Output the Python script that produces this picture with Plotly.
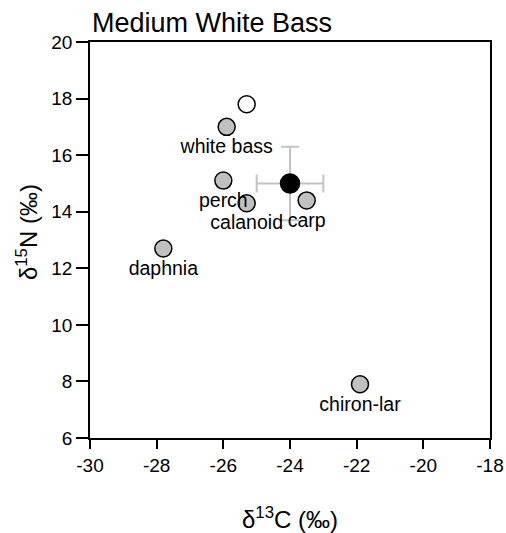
import plotly.graph_objects as go

# Data
prey_names = ["white bass", "perch", "calanoid", "carp", "daphnia", "chiron-lar"]
prey_d13C = [-25.9, -26.0, -25.3, -23.5, -27.8, -21.9]
prey_d15N = [17.0, 15.1, 14.3, 14.4, 12.7, 7.9]

open_d13C = [-25.3]
open_d15N = [17.8]

mean_d13C = [-24.0]
mean_d15N = [15.0]
mean_sd13C = [1.0]
mean_sd15N = [1.3]

x_ticks = [-30, -28, -26, -24, -22, -20, -18]
x_tick_labels = ["-30", "-28", "-26", "-24", "-22", "-20", "-18"]
y_ticks = [6, 8, 10, 12, 14, 16, 18, 20]
y_tick_labels = ["6", "8", "10", "12", "14", "16", "18", "20"]

FONT = "Liberation Sans, Arial, sans-serif"

fig = go.Figure()

# mean consumer with error bars
fig.add_trace(go.Scatter(
    x=mean_d13C, y=mean_d15N, mode="markers",
    marker=dict(size=19, color="black", line=dict(color="black", width=1.5)),
    error_x=dict(type="data", array=mean_sd13C, color="#c4c4c4", thickness=2, width=9),
    error_y=dict(type="data", array=mean_sd15N, color="#c4c4c4", thickness=2, width=9),
    showlegend=False, cliponaxis=False,
))

# open circle
fig.add_trace(go.Scatter(
    x=open_d13C, y=open_d15N, mode="markers",
    marker=dict(size=17, color="white", line=dict(color="black", width=1.5)),
    showlegend=False, cliponaxis=False,
))

# prey sources
fig.add_trace(go.Scatter(
    x=prey_d13C, y=prey_d15N, mode="markers+text",
    text=prey_names, textposition="bottom center",
    textfont=dict(family=FONT, size=19.5, color="black"),
    marker=dict(size=17, color="#c0c0c0", line=dict(color="black", width=1.5)),
    showlegend=False, cliponaxis=False,
))

axis_common = dict(
    showline=True, linecolor="black", linewidth=1.5, mirror=True,
    showgrid=False, zeroline=False, ticks="outside", tickcolor="black",
    tickwidth=1.5, tickfont=dict(family=FONT, size=19, color="black"),
    ticklabeloverflow="allow", automargin=False,
)

fig.update_xaxes(range=[-30, -18], tickvals=x_ticks, ticktext=x_tick_labels,
                 ticklen=9, **axis_common)
fig.update_yaxes(range=[6, 20], tickvals=y_ticks, ticktext=y_tick_labels,
                 ticklen=12, **axis_common)

fig.update_layout(
    width=506, height=533,
    margin=dict(l=90, r=16, t=42, b=95, autoexpand=False),
    paper_bgcolor="white", plot_bgcolor="white",
    title=dict(text="Medium White Bass", x=92 / 506, xanchor="left",
               xref="container", yref="container", y=1 - 22.5 / 533, yanchor="middle",
               font=dict(family=FONT, size=27, color="black")),
    annotations=[
        dict(text="δ<sup>13</sup>C (‰)", xref="paper", yref="paper", x=0.5, y=0,
             yshift=-80, xanchor="center", yanchor="middle", showarrow=False,
             font=dict(family=FONT, size=24, color="black")),
        dict(text="δ<sup>15</sup>N (‰)", xref="paper", yref="paper", x=0, y=0.52,
             xshift=-63, xanchor="center", yanchor="middle", textangle=-90,
             showarrow=False, font=dict(family=FONT, size=24, color="black")),
    ],
)

fig.write_html("out.html")
